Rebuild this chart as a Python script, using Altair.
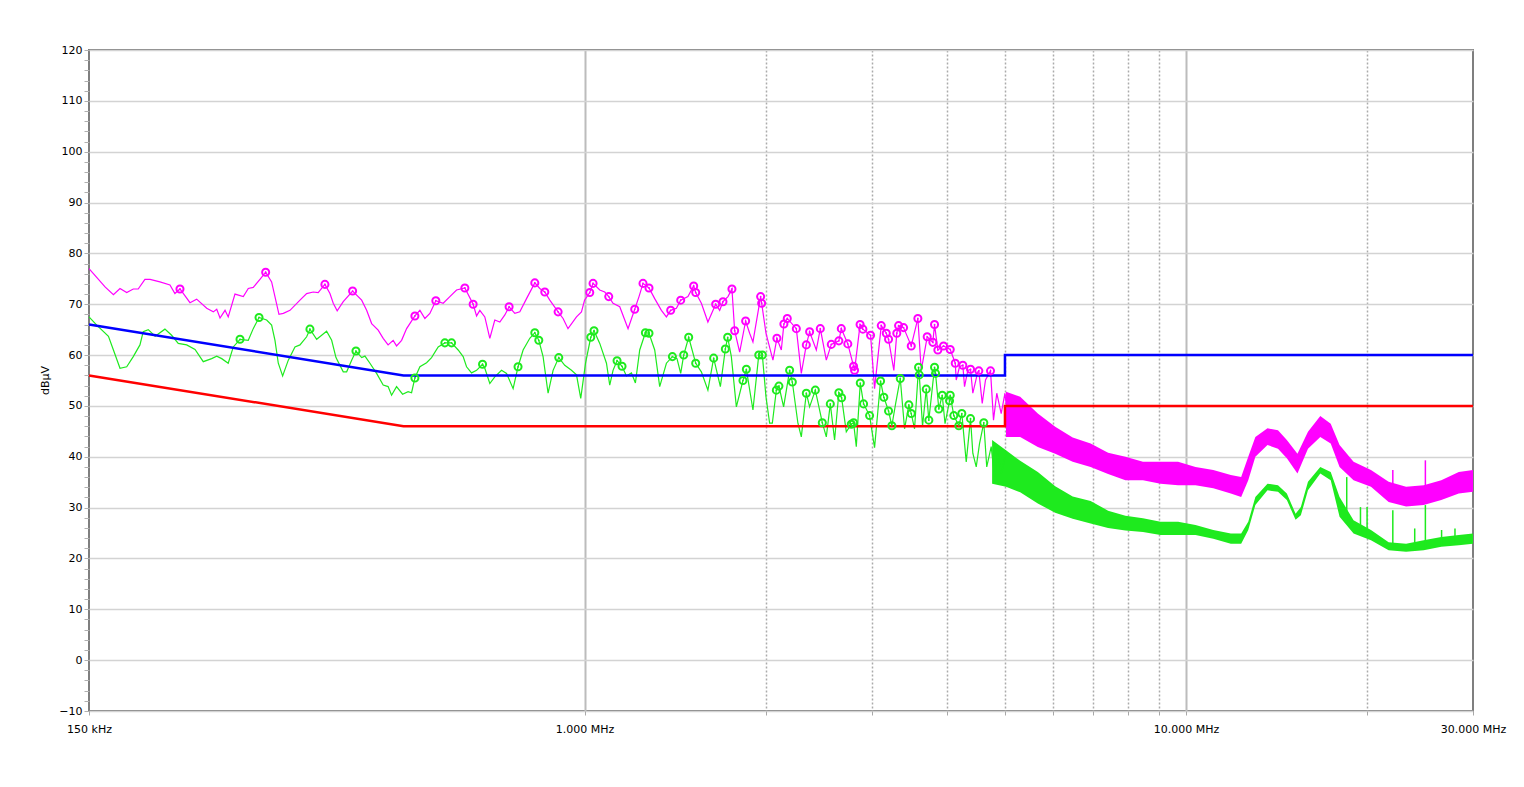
import altair as alt
import pandas as pd

# ---------------- data (frequency in MHz, level in dBuV) ----------------
mag_f = [0.150,0.1595,0.1647,0.1689,0.1733,0.1777,0.1811,0.1858,0.1895,0.1968,0.2045,0.2084,0.2125,0.2208,0.2265,
         0.2354,0.2414,0.2446,0.2477,0.2525,0.2556,0.2623,0.2708,0.2760,0.2813,0.2886,0.2950,0.3018,0.3104,0.3156,
         0.3238,0.3364,0.3451,0.3539,0.3607,0.3701,0.3773,0.3821,0.3879,0.3970,0.4115,0.4260,0.4342,0.4426,0.4538,
         0.4626,0.4714,0.4806,0.4869,0.4964,0.5060,0.5223,0.5324,0.5427,0.5531,0.5659,0.5820,0.5971,0.6126,0.6324,
         0.6528,0.6614,0.6697,0.6826,0.6958,0.7092,0.7230,0.7370,0.7491,0.7657,0.7805,0.8008,0.8266,0.8425,0.8588,
         0.8754,0.9037,0.9211,0.9386,0.9696,0.9882,1.000,1.0201,1.0331,1.0599,1.0804,1.097,1.1152,1.1442,1.1812,
         1.2117,1.2318,1.2508,1.2798,1.3081,1.342,1.368,1.3906,1.4213,1.4449,1.4855,1.5185,1.5303,1.5639,1.6035,
         1.6518,1.6774,1.6987,1.7316,1.7581,1.7764,1.8108,1.8528,1.8814,1.9053,1.9622,1.9699,2.0027,2.0568,2.0883,
         2.1239,2.145,2.1729,2.2495,2.2928,2.3372,2.3669,2.4284,2.4658,2.5232,2.5717,2.6473,2.6721,2.7395,2.8008,
         2.8113,2.8714,2.9023,2.989,3.0352,3.1139,3.1742,3.2021,3.2676,3.3046,3.3273,3.3914,3.4927,3.5822,3.6289,
         3.7126,3.7937,3.8184,3.8671,3.9521,4.0549,4.1334,4.1491,4.2017,4.255,4.2828,4.3374,4.3823,4.421,4.5066,
         4.5237,4.5831,4.6411,4.7309,4.7854,4.8457,4.9284,5.000,5.0548,5.1522,5.2519,5.353]
mag_db = [77.0,73.4,71.9,73.1,72.3,73.0,73.0,74.9,74.9,74.4,73.8,72.1,73.0,70.3,71.0,
          69.2,68.5,69.0,67.3,68.8,67.5,72.0,71.5,73.1,73.3,74.9,76.3,74.4,68.0,68.2,
          68.8,70.8,72.1,72.4,72.3,73.9,72.1,70.2,68.7,70.5,72.6,70.8,68.8,66.2,64.9,
          63.3,62.0,62.9,61.8,62.9,65.2,67.7,68.8,67.2,68.2,70.7,70.2,71.5,72.8,73.2,
          70.0,67.7,68.8,67.5,63.3,66.9,66.5,67.9,69.5,68.2,68.5,71.1,74.2,73.1,72.4,
          70.8,68.5,67.2,65.2,67.5,68.5,70.8,72.3,74.1,72.8,72.4,71.5,70.2,69.5,65.2,
          69.0,71.5,74.1,73.2,71.1,68.8,67.5,68.8,69.2,70.8,71.5,73.6,72.3,70.2,66.5,
          70.0,68.8,70.5,71.5,73.0,64.8,60.6,66.7,64.3,62.6,71.5,70.2,64.3,59.0,63.3,
          61.0,66.1,67.2,65.2,56.4,62.0,64.6,61.0,65.2,59.0,62.1,62.8,65.2,62.2,57.8,
          57.0,66.0,65.1,63.9,53.4,65.8,64.3,63.1,57.0,64.3,65.8,65.4,61.8,67.2,57.0,
          63.6,62.5,66.0,61.0,61.8,61.1,58.4,55.1,57.7,58.0,53.8,57.0,57.2,52.5,56.7,
          56.9,50.5,55.1,56.9,47.2,52.5,48.5,52.5,47.2,51.8,46.6,49.8]

grn_f = [0.150,0.1545,0.1616,0.1647,0.1689,0.1733,0.1777,0.1823,0.1846,0.1882,0.1932,0.2006,0.2058,0.2111,0.2180,
         0.2251,0.2323,0.2399,0.2446,0.2493,0.2556,0.2606,0.2674,0.2760,0.2813,0.2876,0.2961,0.3018,0.3057,0.3096,
         0.3148,0.3217,0.3300,0.3364,0.3451,0.3495,0.3586,0.3655,0.3725,0.3798,0.3861,0.3970,0.4022,0.4100,0.4168,
         0.4260,0.4314,0.4397,0.4511,0.4626,0.4714,0.4777,0.4869,0.4983,0.5089,0.5157,0.5223,0.5324,0.5462,0.5567,
         0.5710,0.5858,0.6010,0.6164,0.6283,0.6365,0.6488,0.6614,0.6767,0.6826,0.6958,0.7092,0.7277,0.7418,0.7607,
         0.7752,0.7904,0.8109,0.8266,0.8393,0.8532,0.8697,0.8865,0.9060,0.9270,0.9511,0.9696,0.9855,1.0038,1.024,
         1.0369,1.0599,1.0875,1.1012,1.1152,1.1325,1.1543,1.1739,1.1965,1.2149,1.2351,1.2623,1.2798,1.3081,1.3333,
         1.368,1.3997,1.4246,1.4449,1.4616,1.4898,1.5303,1.5639,1.6035,1.6393,1.6819,1.7143,1.7296,1.7541,1.7881,
         1.8338,1.8579,1.9053,1.9482,1.9751,2.0027,2.031,2.0521,2.0838,2.1045,2.1427,2.1925,2.2153,2.2633,2.2928,
         2.3372,2.3669,2.4192,2.4848,2.5232,2.562,2.6044,2.6473,2.6752,2.7238,2.7762,2.8008,2.83,2.8736,2.9101,
         2.9777,3.0352,3.1056,3.1449,3.2021,3.2428,3.2904,3.3489,3.4043,3.4607,3.4927,3.5371,3.5918,3.6015,3.647,
         3.6992,3.736,3.8184,3.833,3.8817,3.9327,3.975,4.044,4.0549,4.1107,4.1904,4.2387,4.3109,4.3823,4.421,
         4.4791,4.5359,4.6108,4.663,4.7434,4.8038,4.8651,4.9284,5.0239]
grn_db = [67.5,65.9,63.7,61.0,57.4,57.7,59.7,62.0,64.6,65.0,63.7,65.1,63.9,62.3,62.0,
          61.1,58.7,59.3,59.8,59.3,58.4,61.6,63.1,62.9,65.2,67.4,66.9,65.9,62.9,58.4,
          55.9,59.0,61.6,62.0,63.6,65.1,63.1,63.9,64.7,62.9,59.5,56.7,56.7,59.0,60.8,
          59.5,59.8,58.4,56.4,54.1,53.8,52.1,53.8,52.3,52.8,52.6,55.5,57.7,58.5,59.5,
          61.6,62.4,62.4,61.0,59.7,57.7,56.5,57.0,58.2,57.4,54.4,55.7,57.0,56.4,53.4,
          57.7,61.0,63.3,64.4,62.9,59.7,52.5,57.0,59.5,58.0,57.0,56.1,51.5,58.4,63.5,
          64.8,62.3,58.4,54.1,57.0,58.9,57.8,55.9,56.5,54.5,61.0,64.4,64.3,61.0,53.8,
          58.4,59.7,59.3,56.4,60.0,63.5,58.4,56.7,53.1,59.4,53.8,61.2,63.5,59.7,49.8,
          55.0,57.2,49.2,60.0,60.0,51.8,46.6,46.6,53.1,53.9,49.8,57.0,54.7,46.6,43.9,
          52.5,49.8,53.1,46.7,43.9,50.4,43.3,52.6,51.6,44.9,46.4,46.7,42.0,54.5,50.4,
          48.1,41.8,54.9,51.7,49.0,46.1,50.5,55.4,45.5,50.2,48.5,45.5,57.6,56.1,46.0,
          53.3,47.2,57.6,56.4,49.4,52.1,46.5,51.0,52.1,48.1,46.1,48.5,39.0,47.5,40.7,
          38.0,42.6,46.7,38.0,42.0,36.1,40.7,36.7,40.7]

# peak markers
mag_mk_f = [0.2125,0.2950,0.3701,0.4115,0.5223,0.5659,0.6324,0.6528,0.7491,0.8266,0.8588,0.9037,1.0201,1.0331,1.097,
            1.2117,1.2508,1.2798,1.3906,1.4449,1.5185,1.5303,1.6518,1.6987,1.7581,1.7764,1.8528,1.9622,1.9699,2.0883,
            2.145,2.1729,2.2495,2.3372,2.3669,2.4658,2.5717,2.6473,2.6721,2.7395,2.8008,2.8113,2.8714,2.9023,2.989,
            3.1139,3.1742,3.2021,3.3046,3.3273,3.3914,3.4927,3.5822,3.7126,3.7937,3.8184,3.8671,3.9521,4.0549,4.1334,
            4.255,4.3823,4.5237,4.7309]
mag_mk_db = [73.0,76.3,73.9,72.6,67.7,70.7,73.2,70.0,69.5,74.2,72.4,68.5,72.3,74.1,71.5,
             69.0,74.1,73.2,68.8,70.8,73.6,72.3,70.0,70.5,73.0,64.8,66.7,71.5,70.2,63.3,
             66.1,67.2,65.2,62.0,64.6,65.2,62.1,62.8,65.2,62.2,57.8,57.0,66.0,65.1,63.9,
             65.8,64.3,63.1,64.3,65.8,65.4,61.8,67.2,63.6,62.5,66.0,61.0,61.8,61.1,58.4,
             58.0,57.2,56.9,56.9]
grn_mk_f = [0.2674,0.2876,0.3495,0.4168,0.5223,0.5858,0.6010,0.6767,0.7752,0.8266,0.8393,0.9060,1.024,1.0369,1.1325,
            1.1543,1.2623,1.2798,1.3997,1.4616,1.4898,1.5303,1.6393,1.7143,1.7296,1.8338,1.8579,1.9482,1.9751,2.0838,
            2.1045,2.1925,2.2153,2.3372,2.4192,2.4848,2.562,2.6473,2.6752,2.7762,2.8008,2.8736,2.9101,2.9777,3.1056,
            3.1449,3.2021,3.2428,3.3489,3.4607,3.4927,3.5918,3.6015,3.6992,3.736,3.8184,3.833,3.8817,3.9327,4.044,
            4.0549,4.1107,4.1904,4.2387,4.3823,4.6108]
grn_mk_db = [63.1,67.4,65.1,60.8,55.5,62.4,62.4,58.2,57.7,64.4,62.9,59.5,63.5,64.8,58.9,
             57.8,64.4,64.3,59.7,60.0,63.5,58.4,59.4,61.2,63.5,55.0,57.2,60.0,60.0,53.1,
             53.9,57.0,54.7,52.5,53.1,46.7,50.4,52.6,51.6,46.4,46.7,54.5,50.4,48.1,54.9,
             51.7,49.0,46.1,55.4,50.2,48.5,57.6,56.1,53.3,47.2,57.6,56.4,49.4,52.1,51.0,
             52.1,48.1,46.1,48.5,47.5,46.7]

# dense noise region: envelope (min / max) of each trace
mag_band_f = [5.02,5.30,5.67,6.06,6.48,6.94,7.42,7.93,8.48,9.07,9.70,10.37,11.10,11.87,12.35,12.69,13.04,
              13.66,14.22,14.71,15.32,15.95,16.72,17.40,18.00,18.99,20.30,21.72,23.22,24.84,26.57,28.41,30.0]
mag_band_hi = [52.8,51.8,48.5,45.9,43.8,42.6,40.8,40.0,39.0,39.0,39.0,38.0,37.4,36.4,36.0,40.0,43.9,
               45.6,45.2,43.3,40.6,44.9,48.0,46.5,42.3,39.0,37.4,35.1,34.1,34.4,35.4,37.0,37.4]
mag_band_lo = [43.9,43.9,41.9,40.6,39.0,38.0,36.6,35.4,35.4,34.7,34.4,34.4,33.8,32.8,32.1,35.4,40.0,
               42.3,41.6,39.7,36.7,41.6,43.9,42.6,38.0,35.4,34.1,31.1,30.2,30.5,31.5,32.8,33.1]
grn_band_f = [4.76,5.02,5.30,5.67,6.06,6.48,6.94,7.42,7.93,8.48,9.07,9.70,10.37,11.10,11.87,12.35,12.69,13.04,
              13.66,14.22,14.71,15.21,15.52,15.95,16.72,17.40,18.00,18.99,20.30,21.72,23.22,24.84,26.57,28.41,30.0]
grn_band_hi = [43.3,41.3,39.2,37.0,34.2,32.2,31.3,29.4,28.4,27.9,27.2,27.2,26.6,25.6,24.9,24.9,27.2,32.1,
               34.7,34.4,32.8,28.8,30.1,35.1,38.0,37.0,32.1,27.5,25.6,23.2,22.9,23.6,24.2,24.6,24.9]
grn_band_lo = [34.7,34.1,33.0,30.8,29.0,27.8,26.9,26.0,25.5,25.2,24.6,24.6,24.6,23.9,22.9,22.9,25.6,30.5,
               33.4,33.1,31.5,27.6,28.5,33.4,36.7,35.4,28.2,24.9,23.6,21.6,21.3,21.6,22.3,22.6,22.9]

# isolated spikes
grn_spk_f = [18.5,19.5,20.0,22.07,24.0,25.0,26.6,28.0]
grn_spk_lo = [27.0,25.0,24.0,22.0,22.0,22.0,22.5,23.0]
grn_spk_hi = [36.0,30.1,30.1,29.5,25.9,30.5,25.6,25.9]
mag_spk_f = [22.07,25.0]
mag_spk_lo = [32.0,31.0]
mag_spk_hi = [37.4,39.3]

# limit lines
lim_f = [0.15, 0.5, 5.0, 5.0, 30.0]
qp_lim = [66, 56, 56, 60, 60]
av_lim = [56, 46, 46, 50, 50]

# axes
x_tick_values = [0.15, 1, 2, 3, 4, 5, 6, 7, 8, 9, 10, 20, 30]
x_label_values = [0.15, 1, 10, 30]
x_label_texts = ["150 kHz", "1.000 MHz", "10.000 MHz", "30.000 MHz"]
y_tick_values = list(range(-10, 121, 2))

MAG = "#ff00ff"
GRN = "#1eea1e"
BLUE = "#0000ff"
RED = "#ff0000"
FONT = "DejaVu Sans"

label_expr = " : ".join(
    f"datum.value == {v} ? '{t}'" for v, t in zip(x_label_values, x_label_texts)
) + " : ''"

x_axis = alt.Axis(
    values=x_tick_values,
    labelExpr=label_expr,
    labelOverlap=False,
    labelFlush=False,
    labelPadding=8,
    tickSize=4,
    tickColor="#a8a8a8",
    grid=True,
    gridColor={"condition": {"test": "datum.value == 1 || datum.value == 10", "value": "#bcbcbc"}, "value": "#ababab"},
    gridDash={"condition": {"test": "datum.value == 1 || datum.value == 10", "value": []}, "value": [2, 2]},
    gridWidth={"condition": {"test": "datum.value == 1 || datum.value == 10", "value": 2}, "value": 1.5},
    gridOpacity={"condition": {"test": "datum.value == 0.15 || datum.value == 30", "value": 0}, "value": 1},
    domain=False,
    title=None,
)
y_axis = alt.Axis(
    values=y_tick_values,
    labelExpr="datum.value % 10 === 0 ? datum.label : ''",
    labelPadding=2,
    tickSize=5,
    tickColor="#b0b0b0",
    grid=True,
    gridColor="#d3d3d3",
    gridWidth=1.5,
    gridOpacity={"condition": {"test": "datum.value % 10 === 0", "value": 1}, "value": 0},
    domain=False,
    title="dBµV",
    titleX=-44,
    titleY=330,
    titleAlign="center",
    titleBaseline="middle",
    titleAngle=-90,
    titleFontWeight="normal",
    titleFontSize=11,
    titleFont=FONT,
    titleColor="#000000",
)

xs = alt.Scale(type="log", domain=[0.15, 30], nice=False, zero=False)
ys = alt.Scale(domain=[-10, 120], nice=False, zero=False)
X = alt.X("f:Q", scale=xs, axis=x_axis)
Y = alt.Y("v:Q", scale=ys, axis=y_axis)


def line_df(f, v):
    return pd.DataFrame({"f": f, "v": v, "i": list(range(len(f)))})


def band_df(f, lo, hi):
    return pd.DataFrame({"f": f, "v": lo, "v2": hi})


mag_line = alt.Chart(line_df(mag_f, mag_db)).mark_line(color=MAG, strokeWidth=1.2).encode(X, Y, order="i:Q")
grn_line = alt.Chart(line_df(grn_f, grn_db)).mark_line(color=GRN, strokeWidth=1.2).encode(X, Y, order="i:Q")
mag_band = alt.Chart(band_df(mag_band_f, mag_band_lo, mag_band_hi)).mark_area(
    color=MAG, opacity=1, orient="vertical").encode(X, Y, y2=alt.Y2("v2:Q"))
grn_band = alt.Chart(band_df(grn_band_f, grn_band_lo, grn_band_hi)).mark_area(
    color=GRN, opacity=1, orient="vertical").encode(X, Y, y2=alt.Y2("v2:Q"))
mag_spk = alt.Chart(band_df(mag_spk_f, mag_spk_lo, mag_spk_hi)).mark_rule(color=MAG, strokeWidth=1.5).encode(
    X, Y, y2=alt.Y2("v2:Q"))
grn_spk = alt.Chart(band_df(grn_spk_f, grn_spk_lo, grn_spk_hi)).mark_rule(color=GRN, strokeWidth=1.5).encode(
    X, Y, y2=alt.Y2("v2:Q"))
qp = alt.Chart(line_df(lim_f, qp_lim)).mark_line(color=BLUE, strokeWidth=2.5).encode(X, Y, order="i:Q")
av = alt.Chart(line_df(lim_f, av_lim)).mark_line(color=RED, strokeWidth=2.5).encode(X, Y, order="i:Q")


def markers(f, v, color):
    d = line_df(f, v)
    ring = alt.Chart(d).mark_point(shape="circle", filled=False, color=color, size=50, strokeWidth=2, opacity=1).encode(X, Y)
    dot = alt.Chart(d).mark_point(shape="circle", filled=True, color=color, size=3, opacity=1).encode(X, Y)
    return ring + dot


chart = alt.layer(
    grn_band, grn_line, grn_spk,
    mag_band, mag_line, mag_spk,
    qp, av,
    markers(mag_mk_f, mag_mk_db, MAG),
    markers(grn_mk_f, grn_mk_db, GRN),
).properties(
    width=1384,
    height=661,
    autosize=alt.AutoSizeParams(type="none"),
    padding={"left": 81, "top": 42, "right": 35, "bottom": 60},
).configure_axis(
    labelFont=FONT,
    labelFontSize=11,
    labelColor="#000000",
).configure_view(
    stroke="#7f7f7f",
    strokeWidth=2,
)

chart.save("out.html", embed_options={"renderer": "svg", "actions": False})
